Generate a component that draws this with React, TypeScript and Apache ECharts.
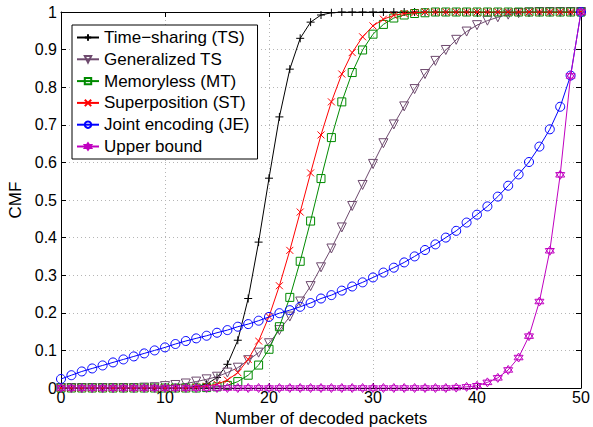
import React, { useEffect, useRef } from "react";
import * as echarts from "echarts";

const packets = [0,1,2,3,4,5,6,7,8,9,10,11,12,13,14,15,16,17,18,19,20,21,22,23,24,25,26,27,28,29,30,31,32,33,34,35,36,37,38,39,40,41,42,43,44,45,46,47,48,49,50];

const timeSharing = [0,0,0,0,0,0,0,0,0,0,0,0,0.001,0.004,0.01,0.028,0.063,0.127,0.238,0.388,0.558,0.721,0.848,0.93,0.973,0.992,0.998,1,1,1,1,1,1,1,1,1,1,1,1,1,1,1,1,1,1,1,1,1,1,1,1];
const generalizedTS = [0,0,0,0,0,0,0,0,0.001,0.002,0.005,0.008,0.012,0.017,0.023,0.03,0.041,0.054,0.074,0.094,0.119,0.154,0.19,0.23,0.271,0.321,0.371,0.427,0.484,0.54,0.596,0.651,0.701,0.749,0.795,0.835,0.87,0.899,0.926,0.948,0.965,0.977,0.986,0.993,0.997,0.999,1,1,1,1,1];
const memoryless = [0,0,0,0,0,0,0,0,0,0,0,0,0,0,0.001,0.003,0.007,0.017,0.034,0.061,0.103,0.163,0.241,0.337,0.444,0.557,0.666,0.761,0.839,0.899,0.941,0.967,0.984,0.992,0.996,0.998,1,1,1,1,1,1,1,1,1,1,1,1,1,1,1];
const superposition = [0,0,0,0,0,0,0,0,0,0,0,0,0,0.002,0.005,0.01,0.021,0.041,0.076,0.125,0.19,0.272,0.366,0.468,0.572,0.673,0.761,0.835,0.892,0.934,0.963,0.981,0.991,0.996,0.998,1,1,1,1,1,1,1,1,1,1,1,1,1,1,1,1];
const jointEncoding = [0.024,0.034,0.044,0.052,0.06,0.068,0.076,0.084,0.092,0.1,0.108,0.117,0.125,0.132,0.139,0.147,0.154,0.163,0.17,0.179,0.189,0.199,0.207,0.216,0.226,0.238,0.247,0.259,0.27,0.281,0.294,0.307,0.32,0.334,0.35,0.367,0.382,0.4,0.418,0.44,0.461,0.483,0.509,0.538,0.568,0.601,0.642,0.688,0.748,0.831,1];
const upperBound = [0,0,0,0,0,0,0,0,0,0,0,0,0,0,0,0,0,0,0,0,0,0,0,0,0,0,0,0,0,0,0,0,0,0,0,0,0,0,0.001,0.003,0.006,0.015,0.027,0.048,0.081,0.138,0.23,0.365,0.567,0.83,1];

const seriesNames = ["Time\u2212sharing (TS)", "Generalized TS", "Memoryless (MT)", "Superposition (ST)", "Joint encoding (JE)", "Upper bound"];
const seriesColors = ["#000000", "#6e4a6e", "#008a00", "#ff0000", "#0000ff", "#c000c0"];
const xTicks = [0, 10, 20, 30, 40, 50];
const yTicks = [0, 0.1, 0.2, 0.3, 0.4, 0.5, 0.6, 0.7, 0.8, 0.9, 1];

const SYM_PLUS = "path://M5,0L5,10M0,5L10,5";
const SYM_CROSS = "path://M0,0L10,10M10,0L0,10";
const SYM_TRI_DOWN = "path://M0,0L10,0L5,9Z";
const SYM_SQUARE = "path://M0,0L10,0L10,10L0,10Z";
const SYM_CIRCLE = "circle";
const SYM_HEX = "path://M5,0L9.33,7.5L0.67,7.5Z M5,10L0.67,2.5L9.33,2.5Z";

const FONT = "Liberation Sans, Arial, Helvetica, sans-serif";

export default function App() {
  const ref = useRef<HTMLDivElement>(null);
  useEffect(() => {
    if (!ref.current) return;
    const chart = echarts.init(ref.current, undefined, { renderer: "svg" });
    const datasets = [timeSharing, generalizedTS, memoryless, superposition, jointEncoding, upperBound];
    const symbols = [SYM_PLUS, SYM_TRI_DOWN, SYM_SQUARE, SYM_CROSS, SYM_CIRCLE, SYM_HEX];
    const sizes = [8, 9, 8, 7, 9, 9];
    const series = datasets.map((vals, i) => ({
      name: seriesNames[i],
      type: "line",
      data: packets.map((x, j) => [x, vals[j]]),
      symbol: symbols[i],
      symbolSize: sizes[i],
      showAllSymbol: true,
      lineStyle: { color: seriesColors[i], width: 1 },
      itemStyle: { color: "none", borderColor: seriesColors[i], borderWidth: 1 },
      emphasis: { disabled: true },
      z: 2 + i,
    }));
    const axisCommon = {
      axisLine: { show: true, onZero: false, lineStyle: { color: "#000", width: 1 } },
      axisTick: { show: true, inside: true, length: 5, lineStyle: { color: "#000", width: 1 } },
    };
    chart.setOption({
      animation: false,
      backgroundColor: "#fff",
      textStyle: { fontFamily: FONT },
      grid: { left: 61, right: 12, top: 12, bottom: 39, containLabel: false, outerBoundsMode: "none" },
      legend: {
        orient: "vertical",
        left: 72,
        top: 25,
        data: seriesNames,
        itemWidth: 22,
        itemHeight: 8,
        itemGap: 4.8,
        padding: [4, 8, 4, 4],
        backgroundColor: "#fff",
        borderColor: "#000",
        borderWidth: 1,
        textStyle: { fontSize: 17, color: "#000", fontFamily: FONT, lineHeight: 16 },
      },
      xAxis: [
        {
          type: "value",
          min: xTicks[0],
          max: xTicks[xTicks.length - 1],
          interval: 10,
          position: "bottom",
          ...axisCommon,
          axisLabel: { fontSize: 16, color: "#000", margin: 1, fontFamily: FONT },
          splitLine: { show: true, lineStyle: { color: "#b5b5b5", type: [1, 3], width: 1 } },
          name: "Number of decoded packets",
          nameLocation: "middle",
          nameGap: 22,
          nameTextStyle: { fontSize: 17, color: "#000", fontFamily: FONT },
        },
        {
          type: "value",
          min: xTicks[0],
          max: xTicks[xTicks.length - 1],
          interval: 10,
          position: "top",
          ...axisCommon,
          axisLabel: { show: false },
          splitLine: { show: false },
        },
      ],
      yAxis: [
        {
          type: "value",
          min: yTicks[0],
          max: yTicks[yTicks.length - 1],
          interval: 0.1,
          position: "left",
          ...axisCommon,
          axisLabel: { fontSize: 16, color: "#000", margin: 4, fontFamily: FONT },
          splitLine: { show: true, lineStyle: { color: "#b5b5b5", type: [1, 3], width: 1 } },
          name: "CMF",
          nameLocation: "middle",
          nameGap: 28,
          nameTextStyle: { fontSize: 17, color: "#000", fontFamily: FONT },
        },
        {
          type: "value",
          min: yTicks[0],
          max: yTicks[yTicks.length - 1],
          interval: 0.1,
          position: "right",
          ...axisCommon,
          axisLabel: { show: false },
          splitLine: { show: false },
        },
      ],
      series,
    });
    return () => chart.dispose();
  }, []);
  return <div ref={ref} style={{ width: 593, height: 427, position: "absolute", left: 0, top: 0 }} />;
}
